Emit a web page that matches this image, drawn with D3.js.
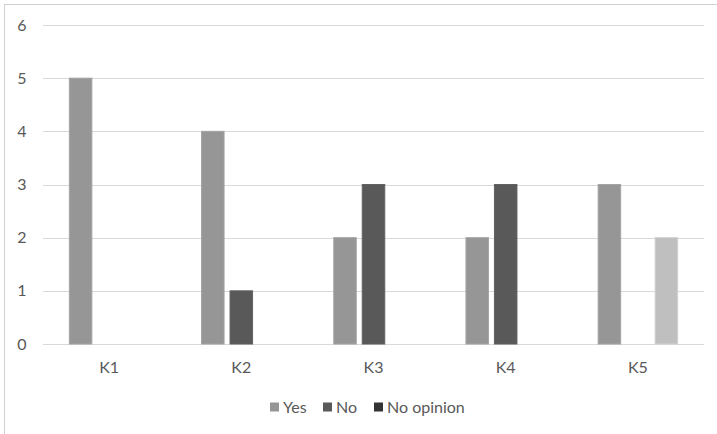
<!DOCTYPE html>
<html><head><meta charset="utf-8">
<script src="https://cdn.jsdelivr.net/npm/d3@7"></script>
<style>body{margin:0;background:#fff}text{font-family:Lato,"Liberation Sans",sans-serif}</style>
</head><body><svg id="c" width="717" height="434"></svg>
<script>
const categories = ["K1","K2","K3","K4","K5"];
const seriesNames = ["Yes","No","No opinion"];
const yesValues = [5,4,2,2,3];
const noValues = [0,1,3,3,0];
const noOpinionValues = [0,0,0,0,2];
const yTicks = [0,1,2,3,4,5,6];

const seriesColors = ["#969696","#595959","#333333"];
const pointColors = {"No opinion|K5":"#bfbfbf"};
const svg = d3.select("#c");
svg.append("rect").attr("x",4.5).attr("y",4.5).attr("width",730).attr("height",450)
  .attr("fill","#fff").attr("stroke","#d0d0d0");

const plotLeft=43, plotRight=704, plotTop=25, plotBottom=344;
const y = d3.scaleLinear().domain([0,6]).range([plotBottom,plotTop]);
const x0 = d3.scaleBand().domain(categories).range([plotLeft,plotRight]).padding(0);
const x1 = d3.scaleBand().domain(seriesNames).range([0,x0.bandwidth()]).paddingInner(0.21).paddingOuter(0.925);

const g = svg.append("g");
g.selectAll("line.grid").data(yTicks).join("line")
  .attr("x1",plotLeft).attr("x2",plotRight).attr("y1",d=>Math.round(y(d))+0.5).attr("y2",d=>Math.round(y(d))+0.5)
  .attr("stroke","#d9d9d9").attr("stroke-width",1);
g.selectAll("text.yt").data(yTicks).join("text")
  .attr("x",22).attr("y",d=>y(d)).attr("dy","0.35em").attr("text-anchor","middle")
  .attr("font-size",16).attr("fill","#595959").text(d=>d);

const vals = [yesValues,noValues,noOpinionValues];
const data = [];
categories.forEach((c,i)=>seriesNames.forEach((s,j)=>data.push({c,s,j,v:vals[j][i]})));
g.selectAll("rect.bar").data(data.filter(d=>d.v>0)).join("rect")
  .attr("x",d=>x0(d.c)+x1(d.s)).attr("width",x1.bandwidth())
  .attr("y",d=>y(d.v)).attr("height",d=>y(0)-y(d.v))
  .attr("fill",d=>pointColors[d.s+"|"+d.c]||seriesColors[d.j])
  .attr("stroke",d=>d3.color(pointColors[d.s+"|"+d.c]||seriesColors[d.j]).brighter(0.25)).attr("stroke-width",1);

g.selectAll("text.xt").data(categories).join("text")
  .attr("x",d=>x0(d)+x0.bandwidth()/2).attr("y",367).attr("dy","0.35em").attr("text-anchor","middle")
  .attr("font-size",16).attr("fill","#595959").text(d=>d);

const legX=[270,323,374];
const leg = g.selectAll("g.leg").data(seriesNames).join("g").attr("transform",(d,i)=>`translate(${legX[i]},407)`);
leg.append("rect").attr("x",0).attr("y",-4.5).attr("width",9).attr("height",9).attr("fill",(d,i)=>seriesColors[i]);
leg.append("text").attr("x",13).attr("y",0).attr("dy","0.35em").attr("font-size",16).attr("fill","#595959").text(d=>d);
</script></body></html>
